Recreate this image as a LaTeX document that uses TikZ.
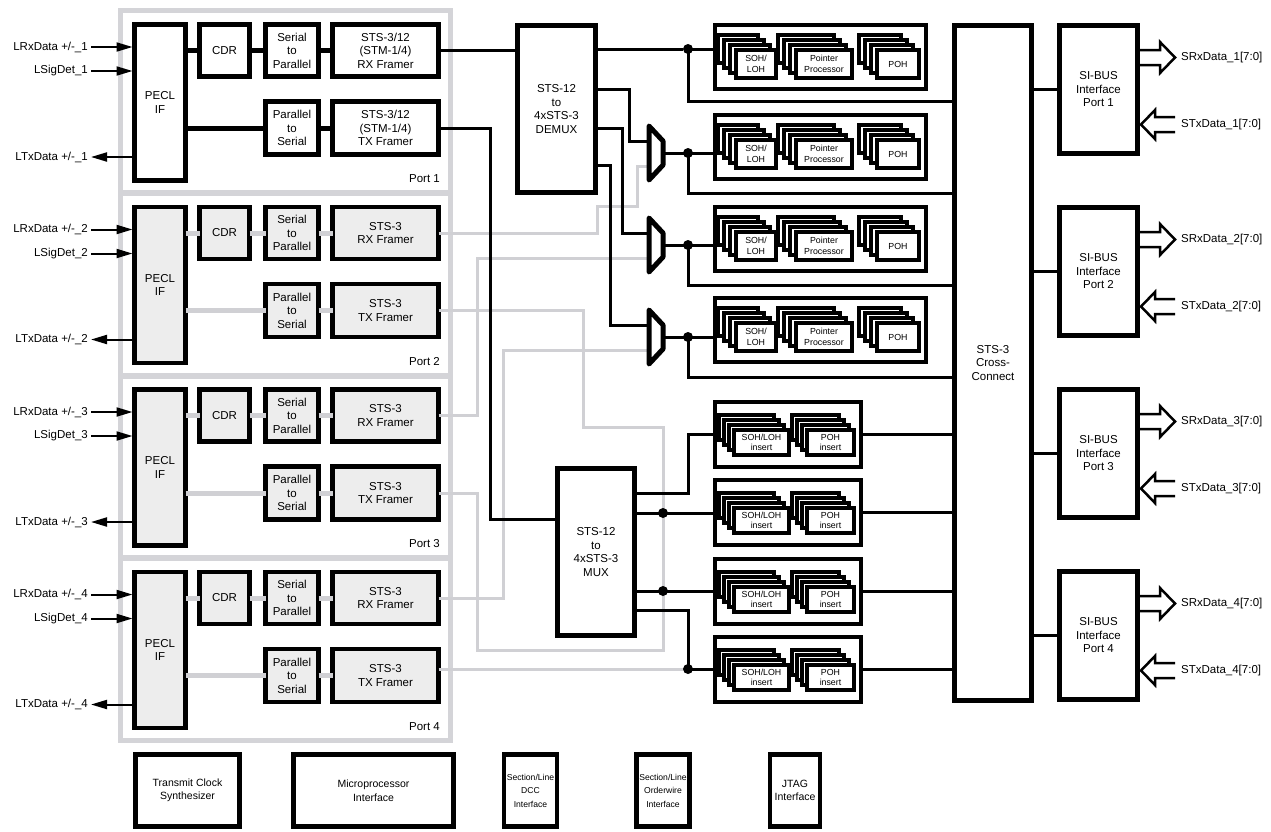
\documentclass[tikz,border=0pt]{standalone}
\usepackage{fontspec}
\setmainfont{Liberation Sans}
\usetikzlibrary{arrows.meta,calc}
\definecolor{gframe}{HTML}{D4D4D8}
\definecolor{gline}{HTML}{D0D0D4}
\definecolor{gfill}{HTML}{EDEDED}
\tikzset{
  box/.style={draw, line width=4.5pt, fill=white, inner sep=0pt, outer sep=0pt, align=center, font=\fontsize{11.5}{13.5}\selectfont},
  gbox/.style={box, fill=gfill},
  bbox/.style={box, font=\fontsize{10.5}{13.5}\selectfont},
  sbox/.style={box, font=\fontsize{8.6}{13.5}\selectfont},
  pbox/.style={draw, line width=4pt, fill=white, inner sep=0pt, outer sep=0pt},
  layer/.style={draw, line width=3.5pt, fill=white, inner sep=0pt, outer sep=0pt, align=center, font=\fontsize{8.8}{10.5}\selectfont},
  wire/.style={line width=3pt},
  fatwire/.style={line width=5pt},
  gwire/.style={line width=3pt, draw=gline},
  gstub/.style={line width=5pt, draw=gline},
  jdot/.style={circle, fill, inner sep=0pt, minimum size=10pt},
  lbl/.style={font=\fontsize{11.5}{13}\selectfont, inner sep=0pt},
  inarrow/.style={line width=2pt, -{Triangle[length=16pt,width=9pt]}},
  bus/.style={line width=2.5pt, line join=miter},
  trap/.style={line width=5pt, line join=round, line cap=round, fill=white},
}
\newcommand{\mystack}[7]{%
  \foreach \s in {3,2,1}{
    \node[layer, minimum width=#4pt, minimum height=#5pt] (#1b\s) at ($(#2,#3)+(-#7*\s,-5*\s)$) {};
  }
  \node[layer, minimum width=#4pt, minimum height=#5pt] (#1) at (#2,#3) {#6};
}
\begin{document}
\begin{tikzpicture}[x=1pt,y=-1pt]
\fill[white] (0,0) rectangle (1271,831);
\useasboundingbox (0,0) rectangle (1271,831);

% port frames
\draw[gframe, line width=5pt] (120.5,10.5) rectangle (450.5,740.5);
\foreach \yy in {193,375.5,558} \draw[gframe, line width=6pt] (120.5,\yy) -- (450.5,\yy);

% central blocks
\node[box, minimum width=78pt, minimum height=167pt] (demux) at (556.5,109) {STS-12\\to\\4xSTS-3\\DEMUX};
\node[box, minimum width=77pt, minimum height=167pt] (mux) at (596,552) {STS-12\\to\\4xSTS-3\\MUX};
\node[box, minimum width=77pt, minimum height=675pt] (cc) at (993,363) {STS-3\\Cross-\\Connect};

\coordinate (tzb1) at (649,166);
\coordinate (tzb2) at (649,258);
\coordinate (tzb3) at (649,350);
\coordinate (mj2) at (663,513);
\coordinate (mj3) at (663,591);
\coordinate (mj4) at (688,669);

% ---- Port 1 ----
\node[box, minimum width=51pt, minimum height=156pt] (pecl1) at (160,102.5) {PECL\\IF};
\node[box, minimum width=50pt, minimum height=52pt] (cdr1) at (224.5,50.5) {CDR};
\node[box, minimum width=53pt, minimum height=52pt] (stp1) at (292,50.5) {Serial\\to\\Parallel};
\node[box, minimum width=106pt, minimum height=52pt] (rxf1) at (385.5,50.5) {STS-3/12\\(STM-1/4)\\RX Framer};
\node[box, minimum width=53pt, minimum height=53pt] (pts1) at (292,128) {Parallel\\to\\Serial};
\node[box, minimum width=106pt, minimum height=53pt] (txf1) at (385.5,128) {STS-3/12\\(STM-1/4)\\TX Framer};
\draw[fatwire] (pecl1.east |- cdr1) -- (cdr1.west);
\draw[fatwire] (cdr1.east) -- (stp1.west);
\draw[fatwire] (stp1.east) -- (rxf1.west);
\draw[fatwire] (pecl1.east |- pts1) -- (pts1.west);
\draw[fatwire] (pts1.east) -- (txf1.west);
\node[lbl, anchor=east] (lrx1) at (88,47) {LRxData +/-\_1};
\node[lbl, anchor=east] (lsd1) at (88,71) {LSigDet\_1};
\node[lbl, anchor=east] (ltx1) at (88,157) {LTxData +/-\_1};
\draw[inarrow, shorten >=2pt] ([xshift=3pt]lrx1.east) -- (pecl1.west |- lrx1);
\draw[inarrow, shorten >=2pt] ([xshift=3pt]lsd1.east) -- (pecl1.west |- lsd1);
\draw[inarrow, shorten <=2pt] (pecl1.west |- ltx1) -- ([xshift=3pt]ltx1.east);
\node[lbl, anchor=east] (plab1) at (440,179) {Port 1};

% ---- Ports 2-4 ----
\foreach \k in {2,3,4}{
  \pgfmathsetmacro{\o}{182.5*(\k-1)}
  \node[gbox, minimum width=51pt, minimum height=156pt] (pecl\k) at (160,102.5+\o) {PECL\\IF};
  \node[gbox, minimum width=50pt, minimum height=52pt] (cdr\k) at (224.5,50.5+\o) {CDR};
  \node[gbox, minimum width=53pt, minimum height=52pt] (stp\k) at (292,50.5+\o) {Serial\\to\\Parallel};
  \node[gbox, minimum width=106pt, minimum height=52pt] (rxf\k) at (385.5,50.5+\o) {STS-3\\RX Framer};
  \node[gbox, minimum width=53pt, minimum height=53pt] (pts\k) at (292,128+\o) {Parallel\\to\\Serial};
  \node[gbox, minimum width=106pt, minimum height=53pt] (txf\k) at (385.5,128+\o) {STS-3\\TX Framer};
  \draw[gstub] (pecl\k.east |- cdr\k) -- (cdr\k.west);
  \draw[gstub] (cdr\k.east) -- (stp\k.west);
  \draw[gstub] (stp\k.east) -- (rxf\k.west);
  \draw[gstub] (pecl\k.east |- pts\k) -- (pts\k.west);
  \draw[gstub] (pts\k.east) -- (txf\k.west);
  \node[lbl, anchor=east] (lrx\k) at (88,47+\o) {LRxData +/-\_\k};
  \node[lbl, anchor=east] (lsd\k) at (88,71+\o) {LSigDet\_\k};
  \node[lbl, anchor=east] (ltx\k) at (88,157+\o) {LTxData +/-\_\k};
  \draw[inarrow, shorten >=2pt] ([xshift=3pt]lrx\k.east) -- (pecl\k.west |- lrx\k);
  \draw[inarrow, shorten >=2pt] ([xshift=3pt]lsd\k.east) -- (pecl\k.west |- lsd\k);
  \draw[inarrow, shorten <=2pt] (pecl\k.west |- ltx\k) -- ([xshift=3pt]ltx\k.east);
  \node[lbl, anchor=east] (plab\k) at (440,179+\o) {Port \k};
}

% gray lines from ports 2-4
\draw[gwire] (rxf2.east) -- (597,233) |- (637,206) |- (tzb1);
\draw[gwire] (rxf3.east) -- (477,415.5) |- (tzb2);
\draw[gwire] (rxf4.east) -- (503,598) |- (tzb3);
\draw[gwire] (txf2.east) -- (583,310.5) |- (663,427) -- (mj2);
\draw[gwire] (txf3.east) -- (477,493) |- (663,650) -- (mj3);
\draw[gwire] (mj2) -- (mj3);
\draw[gwire] (txf4.east |- mj4) -- (mj4);

% ---- black routing ----
\draw[wire] (rxf1.east) -- (demux.west |- rxf1.east);
\draw[wire] (txf1.east) -- (490,128) |- (mux.west |- 0,519);

% processing boxes
\foreach \i/\T/\yin/\yb in {1/23/49/101, 2/113/153/193, 3/205/245/285, 4/296/337/377}{
  \node[pbox, minimum width=211pt, minimum height=64pt] (proc\i) at (820.5,\T+34) {};
  \mystack{soh\i}{756}{\T+41}{40}{28}{SOH/\\LOH}{6}
  \mystack{ptr\i}{824}{\T+41}{56}{28}{Pointer\\Processor}{6}
  \mystack{poh\i}{898}{\T+41}{42}{28}{POH}{6}
  \draw[wire] (688,\yin) -- (proc\i.west |- 0,\yin);
  \draw[wire] (688,\yin) -- (688,\yb) -- (cc.west |- 0,\yb);
  \node[jdot] (pj\i) at (688,\yin) {};
}

% demux outputs
\draw[wire] (demux.east |- pj1) -- (pj1);
\draw[wire] (demux.east |- 0,89) -- (629,89) |- (649,141);
\draw[wire] (demux.east |- 0,128) -- (622,128) |- (649,233);
\draw[wire] (demux.east |- 0,165) -- (610,165) |- (649,325);

% trapezoids
\foreach \i/\c in {1/153, 2/245, 3/337}{
  \draw[wire] (663,\c) -- (688,\c);
  \draw[trap] (649,\c-27) -- (663,\c-12) -- (663,\c+12) -- (649,\c+27) -- cycle;
}

% insert boxes
\foreach \i/\T in {1/400, 2/478, 3/557, 4/635}{
  \node[pbox, minimum width=146pt, minimum height=65pt] (ins\i) at (788,\T+34.5) {};
  \mystack{sohi\i}{761.5}{\T+42.5}{55}{25}{SOH/LOH\\insert}{5}
  \mystack{pohi\i}{830.5}{\T+42.5}{47}{25}{POH\\insert}{5}
  \draw[wire] (ins\i.east) -- (cc.west |- ins\i.east);
}

% mux outputs
\draw[wire] (mux.east |- 0,493) -- (688,493) |- (ins1.west);
\draw[wire] (mux.east |- mj2) -- (ins2.west |- mj2);
\draw[wire] (mux.east |- mj3) -- (ins3.west |- mj3);
\draw[wire] (mux.east |- 0,610) -- (688,610) |- (ins4.west |- mj4);
\node[jdot] (d2) at (mj2) {};
\node[jdot] (d3) at (mj3) {};
\node[jdot] (d4) at (mj4) {};

% SI-BUS
\foreach \k in {1,2,3,4}{
  \pgfmathsetmacro{\o}{182*(\k-1)}
  \node[box, minimum width=78pt, minimum height=128pt] (sib\k) at (1098.5,89.5+\o) {SI-BUS\\Interface\\Port \k};
  \draw[wire] (cc.east |- sib\k) -- (sib\k.west);
  \node[lbl, anchor=west] (srx\k) at (1181,57.5+\o) {SRxData\_\k[7:0]};
  \node[lbl, anchor=west] (stx\k) at (1181,124.5+\o) {STxData\_\k[7:0]};
  \draw[bus] (1138,50+\o) -- (1160,50+\o) -- (1160,42+\o) -- (1175,57.5+\o) -- (1160,73+\o) -- (1160,65+\o) -- (1138,65+\o);
  \draw[bus] (1175,117+\o) -- (1155,117+\o) -- (1155,110+\o) -- (1141,124.5+\o) -- (1155,139+\o) -- (1155,132+\o) -- (1175,132+\o);
}

% bottom blocks
\node[bbox, minimum width=104pt, minimum height=72pt] (tcs) at (187.5,790.5) {Transmit Clock\\Synthesizer};
\node[bbox, minimum width=160pt, minimum height=72pt] (mpi) at (373.5,790.5) {Microprocessor\\Interface};
\node[sbox, minimum width=53pt, minimum height=72pt] (dcc) at (530.5,790.5) {Section/Line\\DCC\\Interface};
\node[sbox, minimum width=53pt, minimum height=72pt] (ow) at (663,790.5) {Section/Line\\Orderwire\\Interface};
\node[bbox, minimum width=50pt, minimum height=72pt] (jtag) at (795,790.5) {JTAG\\Interface};
\end{tikzpicture}
\end{document}
